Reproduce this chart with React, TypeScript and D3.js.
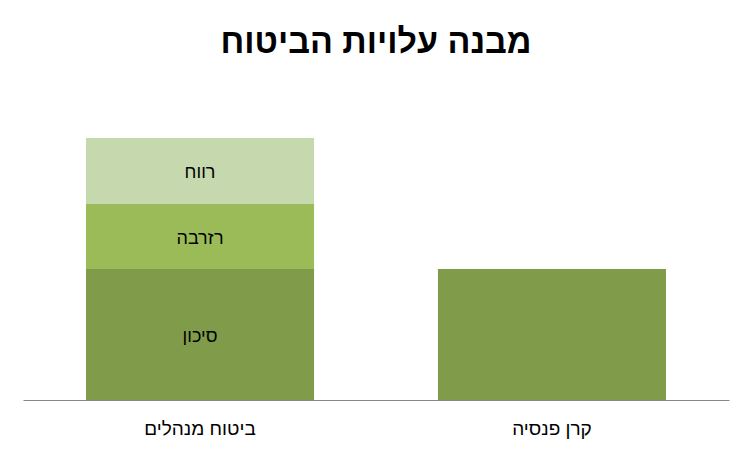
import { useEffect, useRef } from 'react';
import * as d3 from 'd3';

const title = 'מבנה עלויות הביטוח';
const categories = ['ביטוח מנהלים', 'קרן פנסיה'];
const seriesNames = ['סיכון', 'רזרבה', 'רווח'];
const riskValues = [2, 2];
const reserveValues = [1, 0];
const profitValues = [1, 0];
const seriesColors = ['#809C4A', '#9BBB59', '#C6D8AE'];

export default function App() {
  const svgRef = useRef<SVGSVGElement>(null);

  useEffect(() => {
    if (!svgRef.current) return;
    const svg = d3.select(svgRef.current);
    svg.selectAll('*').remove();

    const font = '"Liberation Sans", Arial, sans-serif';
    const left = 23, right = 729, baseline = 400, top = 138;

    const rows = categories.map((c, i) => ({
      cat: c,
      [seriesNames[0]]: riskValues[i],
      [seriesNames[1]]: reserveValues[i],
      [seriesNames[2]]: profitValues[i],
    }));
    const stacked = d3.stack<any>().keys(seriesNames)(rows);

    const x = d3.scaleBand<string>()
      .domain(categories)
      .range([left, right])
      .paddingInner(0.352)
      .paddingOuter(0.179);
    const y = d3.scaleLinear().domain([0, 4]).range([baseline, top]);

    svg.append('text')
      .attr('x', 376)
      .attr('y', 53)
      .attr('text-anchor', 'middle')
      .attr('font-family', font)
      .attr('font-weight', 'bold')
      .attr('font-size', 34)
      .attr('direction', 'rtl')
      .text(title);

    stacked.forEach((layer, li) => {
      const g = svg.append('g');
      layer.forEach((d, i) => {
        const h = y(d[0]) - y(d[1]);
        if (h <= 0) return;
        g.append('rect')
          .attr('x', x(categories[i])!)
          .attr('y', y(d[1]))
          .attr('width', x.bandwidth())
          .attr('height', h)
          .attr('fill', seriesColors[li]);
        if (i === 0) {
          g.append('text')
            .attr('x', x(categories[i])! + x.bandwidth() / 2)
            .attr('y', (y(d[0]) + y(d[1])) / 2 + 1)
            .attr('dy', '0.35em')
            .attr('text-anchor', 'middle')
            .attr('font-family', font)
            .attr('font-size', 18)
            .attr('direction', 'rtl')
            .text(seriesNames[li]);
        }
      });
    });

    const axis = svg.append('g')
      .attr('transform', `translate(0,${baseline})`)
      .call(d3.axisBottom(x).tickSize(0).tickPadding(22));
    axis.select('.domain').attr('stroke', '#888888').attr('stroke-width', 1.2);
    axis.selectAll('text')
      .attr('font-family', font)
      .attr('font-size', 19)
      .attr('fill', '#000')
      .attr('direction', 'rtl');
  }, []);

  return (
    <svg
      ref={svgRef}
      width={752}
      height={452}
      style={{ position: 'absolute', left: 0, top: 0, background: '#fff' }}
    />
  );
}
